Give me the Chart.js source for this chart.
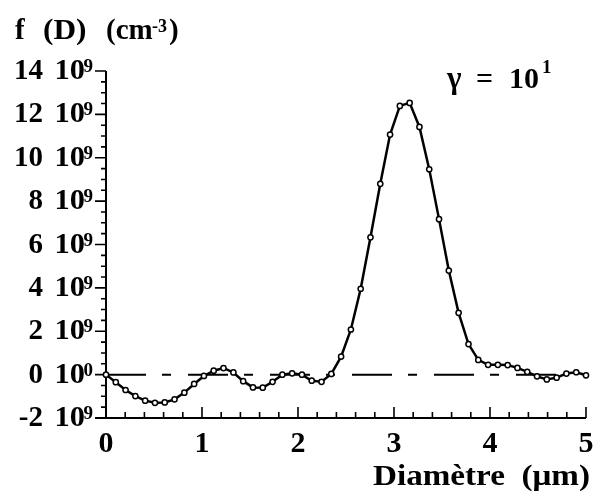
<!DOCTYPE html>
<html><head><meta charset="utf-8">
<script src="https://cdn.jsdelivr.net/npm/chart.js@4/dist/chart.umd.min.js"></script>
<style>html,body{margin:0;padding:0;background:#fff}canvas{display:block}</style>
</head><body>
<canvas id="c" width="603" height="498"></canvas>
<script>
// Diameter (µm)
const diameters = [0.000,0.102,0.204,0.306,0.408,0.510,0.612,0.714,0.816,0.918,
  1.020,1.122,1.224,1.327,1.429,1.531,1.633,1.735,1.837,1.939,
  2.041,2.143,2.245,2.347,2.449,2.551,2.653,2.755,2.857,2.959,
  3.061,3.163,3.265,3.367,3.469,3.571,3.673,3.776,3.878,3.980,
  4.082,4.184,4.286,4.388,4.490,4.592,4.694,4.796,4.898,5.000];
// f(D) in units of 1e9 cm^-3
const fValues = [0.00,-0.35,-0.71,-0.99,-1.20,-1.30,-1.28,-1.14,-0.83,-0.43,
  -0.06,0.18,0.30,0.10,-0.30,-0.59,-0.60,-0.33,0.00,0.06,
  0.00,-0.28,-0.33,0.03,0.83,2.08,3.96,6.33,8.80,11.07,
  12.39,12.53,11.42,9.47,7.17,4.80,2.85,1.41,0.68,0.45,
  0.45,0.44,0.31,0.13,-0.08,-0.22,-0.14,0.05,0.11,-0.03];
// zero reference line extent
const zeroLineX = [0, 4.8];
const zeroLineY = [0, 0];
// tick labels
const xTickValues = [0,1,2,3,4,5];
const yTickValues = [-2,0,2,4,6,8,10,12,14];
const yTickExps = ["9","0","9","9","9","9","9","9","9"];
const yTitleParts = ["f", "(D)", "(cm", "-3", ")"];
const annotParts = ["\u03b3", "=", "10", "1"];
const xTitle = "Diamètre  (\u03bcm)";

const FONT = '"Liberation Serif", "Times New Roman", serif';

function txt(ctx, s, x, y, size, align, sx) {
  sx = sx || 1;
  ctx.save();
  ctx.font = 'bold ' + size + 'px ' + FONT;
  ctx.textAlign = align || 'left';
  ctx.textBaseline = 'alphabetic';
  ctx.translate(x, y);
  ctx.scale(sx, 1);
  ctx.fillText(s, 0, 0);
  ctx.restore();
}

const axesPlugin = {
  id: 'axesPlugin',
  beforeDatasetsDraw(chart) {
    const ctx = chart.ctx, xs = chart.scales.x, ys = chart.scales.y;
    const L = xs.getPixelForValue(0), R = xs.getPixelForValue(5);
    const T = ys.getPixelForValue(14), B = ys.getPixelForValue(-2);
    ctx.save();
    ctx.strokeStyle = '#000';
    ctx.lineWidth = 2;
    ctx.beginPath();
    ctx.moveTo(L, T); ctx.lineTo(L, B);
    ctx.moveTo(L - 11, B); ctx.lineTo(R, B);
    ctx.stroke();
    ctx.lineWidth = 1.6;
    ctx.beginPath();
    for (let v = -2; v <= 14.001; v += 0.5) {
      const y = ys.getPixelForValue(v);
      const major = Math.abs(v / 2 - Math.round(v / 2)) < 1e-6;
      ctx.moveTo(L - (major ? 11 : 5), y); ctx.lineTo(L, y);
    }
    for (let v = 0; v <= 5.001; v += 0.2) {
      const x = xs.getPixelForValue(v);
      const major = Math.abs(v - Math.round(v)) < 1e-6;
      ctx.moveTo(x, B); ctx.lineTo(x, B - (major ? 11 : 6));
    }
    ctx.stroke();
    ctx.restore();
  },
  afterDraw(chart) {
    const ctx = chart.ctx, xs = chart.scales.x, ys = chart.scales.y;
    ctx.save();
    ctx.fillStyle = '#000';
    // y tick labels
    yTickValues.forEach((v, i) => {
      const y = ys.getPixelForValue(v);
      txt(ctx, yTickExps[i], 93, y + 1, 19, 'right');
      txt(ctx, '10', 85, y + 8, 29, 'right', 1.05);
      txt(ctx, String(v), 43, y + 8, 29, 'right');
    });
    // x tick labels
    xTickValues.forEach(v => {
      txt(ctx, String(v), xs.getPixelForValue(v), 452, 30, 'center');
    });
    // y title
    txt(ctx, yTitleParts[0], 15, 39, 29, 'left');
    txt(ctx, yTitleParts[1], 43, 39, 29, 'left', 1.08);
    txt(ctx, yTitleParts[2], 106, 39, 29, 'left');
    txt(ctx, yTitleParts[3], 152, 32, 18, 'left');
    txt(ctx, yTitleParts[4], 169, 39, 29, 'left');
    // annotation
    txt(ctx, annotParts[0], 447, 88, 31, 'left');
    txt(ctx, annotParts[1], 476, 88, 30, 'left');
    txt(ctx, annotParts[2], 509, 88, 30, 'left');
    txt(ctx, annotParts[3], 542, 73, 19, 'left');
    // x title
    ctx.font = 'bold 29px ' + FONT;
    const w = ctx.measureText(xTitle).width;
    txt(ctx, xTitle, 590, 485, 29, 'right', 217 / w);
    ctx.restore();
  }
};

new Chart(document.getElementById('c'), {
  type: 'line',
  data: {
    datasets: [
      {
        data: diameters.map((d, i) => ({x: d, y: fValues[i]})),
        borderColor: '#000',
        borderWidth: 2.5,
        tension: 0,
        pointRadius: 2.6,
        pointBorderWidth: 1.5,
        pointBackgroundColor: '#fff',
        pointBorderColor: '#000',
        clip: 8,
        order: 1
      },
      {
        data: zeroLineX.map((d, i) => ({x: d, y: zeroLineY[i]})),
        borderColor: '#000',
        borderWidth: 2,
        borderDash: [40, 16, 9, 17],
        pointRadius: 0,
        order: 2
      }
    ]
  },
  options: {
    responsive: false,
    animation: false,
    events: [],
    layout: {padding: {left: 0, right: 17, top: 71, bottom: 0}},
    plugins: {legend: {display: false}, tooltip: {enabled: false}, title: {display: false}},
    scales: {
      x: {
        type: 'linear', min: 0, max: 5,
        grid: {display: false}, border: {display: false},
        ticks: {display: false, stepSize: 1},
        afterFit(s) { s.height = 80; }
      },
      y: {
        type: 'linear', min: -2, max: 14,
        grid: {display: false}, border: {display: false},
        ticks: {display: false, stepSize: 2},
        afterFit(s) { s.width = 106; }
      }
    }
  },
  plugins: [axesPlugin]
});
</script>
</body></html>
